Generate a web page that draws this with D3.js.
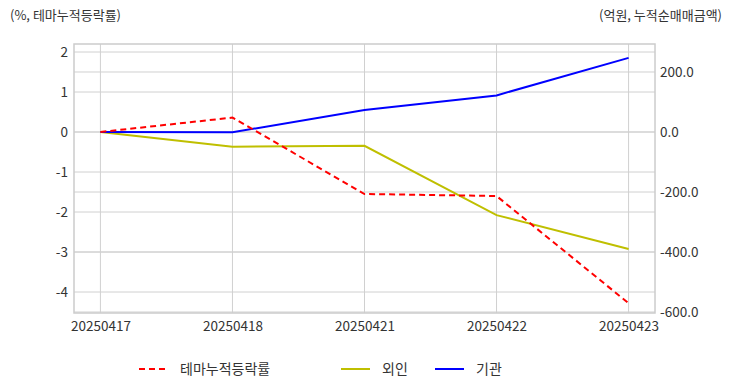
<!DOCTYPE html>
<html>
<head>
<meta charset="utf-8">
<script src="https://cdn.jsdelivr.net/npm/d3@7"></script>
<style>
  body { margin: 0; background: #fff; }
  svg text { font-family: "Noto Sans CJK KR", "Noto Sans", sans-serif; fill: #333; }
  .grid line { stroke: #d0d0d0; stroke-width: 1; }
</style>
</head>
<body>
<svg id="chart"></svg>
<script>
// chart data
const dates = ['20250417', '20250418', '20250421', '20250422', '20250423'];
const themeReturn = [0, 0.36, -1.55, -1.6, -4.28];   // %, left axis
const foreignNet = [0, -49, -46, -277, -390];          // 억원, right axis
const instNet = [0, -1, 73, 122, 247];                 // 억원, right axis
const leftTicks = [2, 1, 0, -1, -2, -3, -4];
const rightTicks = [200, 0, -200, -400, -600];

const config = {
  width: 732,
  height: 392,
  margin: { top: 44, right: 77, bottom: 79, left: 74 }
};

const svg = d3.select('#chart')
  .attr('width', config.width)
  .attr('height', config.height);

const innerW = config.width - config.margin.left - config.margin.right;
const innerH = config.height - config.margin.top - config.margin.bottom;

const chart = svg.append('g')
  .attr('transform', `translate(${config.margin.left},${config.margin.top})`);

// scales
const xScale = d3.scalePoint()
  .domain(dates)
  .range([0, innerW])
  .padding(0.2);

const yLeft = d3.scaleLinear()
  .domain([-4.525, 2.2])
  .range([innerH, 0]);

const yRight = d3.scaleLinear()
  .domain([-603.3, 293.3])
  .range([innerH, 0]);

// gridlines
chart.append('g')
  .attr('class', 'grid')
  .selectAll('line.gx')
  .data(dates)
  .join('line')
  .attr('x1', d => xScale(d)).attr('x2', d => xScale(d))
  .attr('y1', 0).attr('y2', innerH);

chart.append('g')
  .attr('class', 'grid')
  .selectAll('line')
  .data(leftTicks)
  .join('line')
  .attr('x1', 0).attr('x2', innerW)
  .attr('y1', d => yLeft(d)).attr('y2', d => yLeft(d));

chart.append('g')
  .attr('class', 'grid')
  .selectAll('line')
  .data(rightTicks)
  .join('line')
  .attr('x1', 0).attr('x2', innerW)
  .attr('y1', d => yRight(d)).attr('y2', d => yRight(d));

// frame
chart.append('rect')
  .attr('width', innerW)
  .attr('height', innerH)
  .attr('fill', 'none')
  .attr('stroke', '#cccccc')
  .attr('stroke-width', 1.5);

// axes (plain hyphen for negatives, like the original)
const xAxis = d3.axisBottom(xScale).tickSize(0).tickPadding(8);
const leftAxis = d3.axisLeft(yLeft).tickValues(leftTicks).tickSize(0).tickPadding(6)
  .tickFormat(d => String(d));
const rightAxis = d3.axisRight(yRight).tickValues(rightTicks).tickSize(0).tickPadding(5)
  .tickFormat(d => d.toFixed(1));

const xAxisG = chart.append('g')
  .attr('transform', `translate(0,${innerH})`)
  .call(xAxis)
  .call(g => g.select('.domain').remove());

const leftAxisG = chart.append('g')
  .call(leftAxis)
  .call(g => g.select('.domain').remove());

const rightAxisG = chart.append('g')
  .attr('transform', `translate(${innerW},0)`)
  .call(rightAxis)
  .call(g => g.select('.domain').remove());

[xAxisG, leftAxisG, rightAxisG].forEach(g => {
  g.selectAll('text')
    .style('font-size', '13.5px')
    .attr('fill', '#333');
});

// lines
const lineLeft = d3.line()
  .x((d, i) => xScale(dates[i]))
  .y(d => yLeft(d));

const lineRight = d3.line()
  .x((d, i) => xScale(dates[i]))
  .y(d => yRight(d));

chart.append('path')
  .datum(foreignNet)
  .attr('d', lineRight)
  .attr('fill', 'none')
  .attr('stroke', '#bfbf00')
  .attr('stroke-width', 2);

chart.append('path')
  .datum(instNet)
  .attr('d', lineRight)
  .attr('fill', 'none')
  .attr('stroke', '#0000ff')
  .attr('stroke-width', 2);

chart.append('path')
  .datum(themeReturn)
  .attr('d', lineLeft)
  .attr('fill', 'none')
  .attr('stroke', '#ff0000')
  .attr('stroke-width', 2)
  .attr('stroke-dasharray', '6,4');

// axis titles
svg.append('text')
  .attr('x', 10)
  .attr('y', 20)
  .style('font-size', '13px')
  .text('(%, 테마누적등락률)');

svg.append('text')
  .attr('x', 722)
  .attr('y', 20)
  .attr('text-anchor', 'end')
  .style('font-size', '13px')
  .text('(억원, 누적순매매금액)');

// legend
const legendItems = [
  { label: '테마누적등락률', color: '#ff0000', dash: '6,4', x: 139 },
  { label: '외인', color: '#bfbf00', dash: null, x: 341 },
  { label: '기관', color: '#0000ff', dash: null, x: 435 }
];

const legend = svg.append('g').attr('transform', 'translate(0,369)');

const legendG = legend.selectAll('g')
  .data(legendItems)
  .join('g')
  .attr('transform', d => `translate(${d.x},0)`);

legendG.append('line')
  .attr('x1', 0).attr('x2', 29)
  .attr('y1', 0).attr('y2', 0)
  .attr('stroke', d => d.color)
  .attr('stroke-width', 2)
  .attr('stroke-dasharray', d => d.dash);

legendG.append('text')
  .attr('x', 41)
  .attr('y', 5)
  .style('font-size', '14px')
  .text(d => d.label);
</script>
</body>
</html>
